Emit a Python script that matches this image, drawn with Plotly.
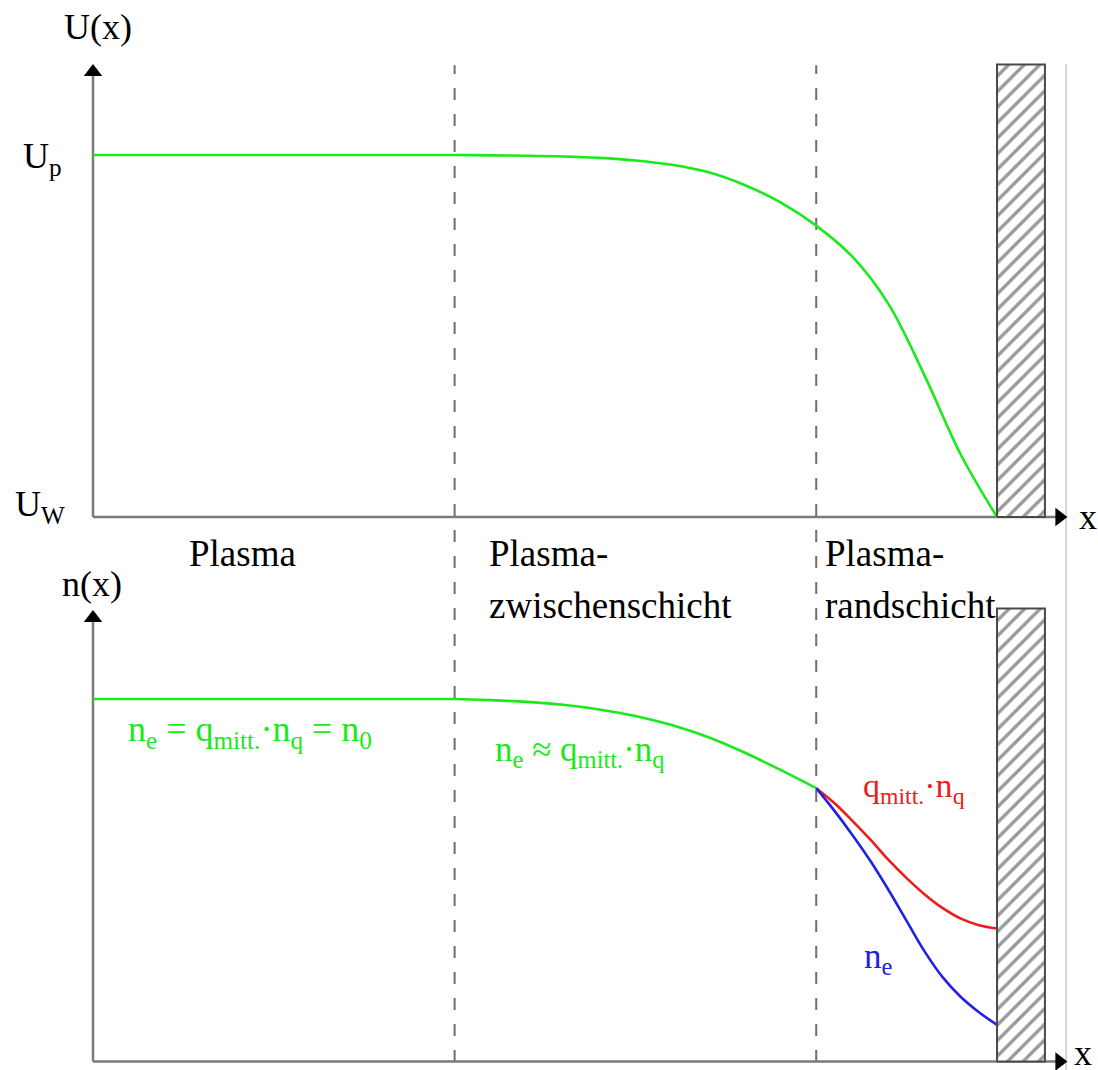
import plotly.graph_objects as go

# ---------------- data ----------------
# position along the discharge (wall surface at x = 10)
zone_bounds = [4.0, 8.0]            # plasma | presheath | sheath
wall_x = [10.0, 10.53]
wall_height = 1.25

# potential U(x), normalised: U_W = 0, U_p = 1
u_x = [0.0, 2.0, 2.8, 3.2, 3.6, 4.0, 4.4, 4.8, 5.2, 5.6, 6.0, 6.4, 6.8, 7.2, 7.6, 8.0,
       8.4, 8.8, 9.2, 9.6, 10.0]
u_val = [1.0, 1.0, 1.0, 1.0, 1.0, 1.0, 0.999, 0.998, 0.996, 0.992, 0.985, 0.973, 0.953,
         0.918, 0.870, 0.805, 0.719, 0.588, 0.390, 0.172, 0.0]

# densities n(x), normalised to n0 = 1
n_x = [0.0, 2.0, 2.8, 3.2, 3.6, 4.0, 4.4, 4.8, 5.2, 5.6, 6.0, 6.4, 6.8, 7.2, 7.6, 8.0]
n_val = [1.0, 1.0, 1.0, 1.0, 1.0, 1.0, 0.997, 0.992, 0.984, 0.971, 0.953, 0.928, 0.895,
         0.853, 0.805, 0.754]

ion_x = [8.0, 8.2, 8.4, 8.6, 8.8, 9.0, 9.2, 9.4, 9.6, 9.8, 10.0]
ion_val = [0.754, 0.713, 0.664, 0.612, 0.556, 0.506, 0.461, 0.423, 0.394, 0.376, 0.367]

el_x = [8.0, 8.2, 8.4, 8.6, 8.8, 9.0, 9.2, 9.4, 9.6, 9.8, 10.0]
el_val = [0.754, 0.692, 0.625, 0.553, 0.473, 0.388, 0.303, 0.232, 0.178, 0.136, 0.101]

region_labels = ["Plasma", "Plasma-", "zwischenschicht", "Plasma-", "randschicht"]

GREEN = "#1aea1a"
RED = "#ee1c1c"
BLUE = "#2020e6"
AXIS = "#7a7a7a"
FONT = "Liberation Serif"
FS = 35

fig = go.Figure()

# ---------------- curves ----------------
curve = dict(width=2.6, shape="spline", smoothing=1.0)
fig.add_trace(go.Scatter(x=u_x, y=u_val, mode="lines", yaxis="y", line=dict(color=GREEN, **curve)))
fig.add_trace(go.Scatter(x=n_x, y=n_val, mode="lines", yaxis="y2", line=dict(color=GREEN, **curve)))
fig.add_trace(go.Scatter(x=ion_x, y=ion_val, mode="lines", yaxis="y2", line=dict(color=RED, **curve)))
fig.add_trace(go.Scatter(x=el_x, y=el_val, mode="lines", yaxis="y2", line=dict(color=BLUE, **curve)))

# ---------------- hatched walls ----------------
for ax in ("y", "y2"):
    fig.add_trace(go.Scatter(
        x=[wall_x[0], wall_x[1], wall_x[1], wall_x[0], wall_x[0]],
        y=[0, 0, wall_height, wall_height, 0],
        yaxis=ax, mode="lines", fill="toself",
        fillcolor="white",
        fillpattern=dict(shape="/", size=11, solidity=0.3, fgcolor="#333333", bgcolor="white"),
        line=dict(color="#4a4a4a", width=2)))

# ---------------- axis arrows ----------------
x_tip = 10.69
for ax, y_tip in (("y", 1.229), ("y2", 1.2234)):
    fig.add_trace(go.Scatter(x=[0, x_tip], y=[y_tip, 0], yaxis=ax, mode="markers",
                             marker=dict(symbol=["triangle-up", "triangle-right"], size=16,
                                         color="black", line=dict(width=0))))

shapes = []
# axis lines
for ax, y_tip in (("y", 1.229), ("y2", 1.2234)):
    shapes.append(dict(type="line", xref="x", yref=ax, x0=0, x1=0, y0=0, y1=y_tip,
                       line=dict(color=AXIS, width=2.5), layer="below"))
    shapes.append(dict(type="line", xref="x", yref=ax, x0=0, x1=x_tip, y0=0, y1=0,
                       line=dict(color=AXIS, width=2.5), layer="below"))
# zone boundaries
for xb in zone_bounds:
    shapes.append(dict(type="line", xref="x", yref="paper", x0=xb, x1=xb,
                       y0=0.0075, y1=0.939,
                       line=dict(color="#6e6e6e", width=2, dash="12px,14px"), layer="below"))
# thin frame line on the right
shapes.append(dict(type="line", xref="x", yref="paper", x0=10.765, x1=10.765, y0=0, y1=0.94,
                   line=dict(color="#d4d4d4", width=2), layer="below"))

# ---------------- text ----------------
def txt(x, y, text, yref="y", color="black", size=FS, xanchor="left"):
    return dict(x=x, y=y, xref="x", yref=yref, text=text, showarrow=False,
                xanchor=xanchor, yanchor="middle",
                font=dict(family=FONT, size=size, color=color))

ann = [
    txt(-0.343, 1.355, "U(x)", size=36),
    txt(-0.80, 0.99, "U<sub>p</sub>", size=36),
    txt(-0.89, 0.03, "U<sub>W</sub>", size=36),
    txt(-0.37, 1.318, "n(x)", yref="y2", size=36),
    txt(10.88, 0.0, "x", size=36),
    txt(10.83, 0.024, "x", yref="y2", size=36),
    txt(1.04, -0.10, region_labels[0], size=37),
    txt(4.36, -0.10, region_labels[1], size=37),
    txt(4.36, -0.245, region_labels[2], size=37),
    txt(8.08, -0.10, region_labels[3], size=37),
    txt(8.08, -0.245, region_labels[4], size=37),
    txt(0.37, 0.91, "n<sub>e</sub> = q<sub>mitt.</sub>·n<sub>q</sub> = n<sub>0</sub>",
        yref="y2", color=GREEN, size=36),
    txt(4.42, 0.855, "n<sub>e</sub> ≈ q<sub>mitt.</sub>·n<sub>q</sub>", yref="y2", color=GREEN),
    txt(8.49, 0.755, "q<sub>mitt.</sub>·n<sub>q</sub>", yref="y2", color=RED, size=34),
    txt(8.51, 0.285, "n<sub>e</sub>", yref="y2", color=BLUE),
]

fig.update_layout(
    width=1098, height=1070,
    margin=dict(l=0, r=0, t=0, b=0),
    paper_bgcolor="white", plot_bgcolor="white",
    font=dict(family=FONT, size=FS, color="black"),
    showlegend=False,
    xaxis=dict(range=[-1.0288, 11.117], visible=False, fixedrange=True),
    yaxis=dict(range=[-1.5276, 1.4282], visible=False, domain=[0, 1], fixedrange=True),
    yaxis2=dict(range=[-0.02345, 2.9283], visible=False, overlaying="y", fixedrange=True),
    shapes=shapes,
    annotations=ann,
    hovermode=False,
)

fig.write_html("out.html")
